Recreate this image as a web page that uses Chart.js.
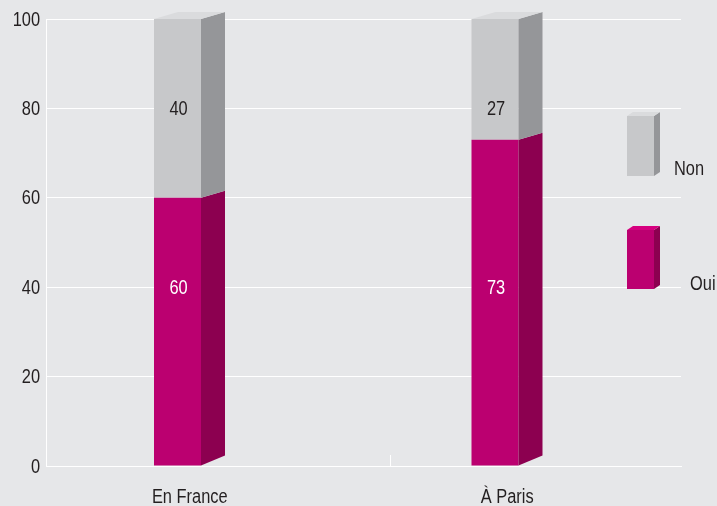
<!DOCTYPE html>
<html>
<head>
<meta charset="utf-8">
<script src="https://cdn.jsdelivr.net/npm/chart.js@4/dist/chart.umd.min.js"></script>
<style>
  html, body { margin: 0; padding: 0; background: #e6e7e9; }
  #wrap { width: 717px; height: 506px; }
</style>
</head>
<body>
<div id="wrap"><canvas id="chart" width="717" height="506"></canvas></div>
<script>
// --- data ---
const categories = ['En France', 'À Paris'];
const ouiValues = [60, 73];
const nonValues = [40, 27];
const yTicks = [0, 20, 40, 60, 80, 100];
const seriesNames = ['Oui', 'Non'];

// --- look ---
const FONT = "'Liberation Sans', Arial, sans-serif";
const NARROW = 0.82; // squeeze Liberation Sans down to a narrow face
const TEXT = '#231f20';
const frontColors = ['#bb0070', '#c7c8ca'];
const sideColors = ['#8c0050', '#959699'];
const topColors = ['#d6007f', '#dadbdd'];
const labelColors = ['#ffffff', TEXT];
const labelAt = [40, 80]; // where the value labels sit on the y scale
const depthX = 24, depthY = 7;

function narrowText(ctx, text, x, y, align, color) {
  ctx.save();
  ctx.translate(x, y);
  ctx.scale(NARROW, 1);
  ctx.font = '20px ' + FONT;
  ctx.fillStyle = color || TEXT;
  ctx.textAlign = align;
  ctx.textBaseline = 'middle';
  ctx.fillText(text, 0, 0);
  ctx.restore();
}

// axis labels in the narrow face, placed from the scales
const axisText = {
  id: 'axisText',
  afterDraw(chart) {
    const ctx = chart.ctx;
    const x = chart.scales.x, y = chart.scales.y;
    y.ticks.forEach((t, i) => {
      narrowText(ctx, String(t.value), y.right - 6, y.getPixelForTick(i) + 1, 'right');
    });
    x.ticks.forEach((t, i) => {
      narrowText(ctx, categories[t.value], x.getPixelForTick(i) - 15, x.top + 31, 'center');
    });
    // the lone little tick on the category axis
    ctx.save();
    ctx.strokeStyle = '#ffffff';
    ctx.lineWidth = 1;
    ctx.beginPath();
    ctx.moveTo(390.5, x.top - 11);
    ctx.lineTo(390.5, x.top);
    ctx.stroke();
    ctx.restore();
  }
};

// side + top faces so the bars look like the 3D columns
const bars3d = {
  id: 'bars3d',
  afterDatasetsDraw(chart) {
    const ctx = chart.ctx;
    ctx.save();
    [0, 1].forEach(i => {
      const meta = chart.getDatasetMeta(i);
      meta.data.forEach(bar => {
        const { x, y, base, width } = bar.getProps(['x', 'y', 'base', 'width'], true);
        const l = x - width / 2, r = x + width / 2;
        ctx.fillStyle = sideColors[i];
        ctx.beginPath();
        ctx.moveTo(r, y);
        ctx.lineTo(r + depthX, y - depthY);
        ctx.lineTo(r + depthX, base - (i === 0 ? 10 : depthY));
        ctx.lineTo(r, base);
        ctx.closePath();
        ctx.fill();
        if (i === 1) {
          ctx.fillStyle = topColors[i];
          ctx.beginPath();
          ctx.moveTo(l, y);
          ctx.lineTo(l + depthX, y - depthY);
          ctx.lineTo(r + depthX, y - depthY);
          ctx.lineTo(r, y);
          ctx.closePath();
          ctx.fill();
        }
      });
    });
    ctx.restore();

    // value labels
    const yScale = chart.scales.y;
    [0, 1].forEach(i => {
      const meta = chart.getDatasetMeta(i);
      const values = chart.data.datasets[i].data;
      meta.data.forEach((bar, j) => {
        narrowText(ctx, String(values[j]), bar.x + 1, yScale.getPixelForValue(labelAt[i]) + 1, 'center', labelColors[i]);
      });
    });
  }
};

// legend on the right: small 3D boxes, name below-right
const legend3d = {
  id: 'legend3d',
  afterDraw(chart) {
    const ctx = chart.ctx;
    const items = [
      { i: 1, box: [627, 116, 27, 60], text: [674, 169] },
      { i: 0, box: [627, 230, 27, 59], text: [690, 284] }
    ];
    items.forEach(it => {
      const [bx, by, bw, bh] = it.box;
      const dx = 6, dy = 4;
      ctx.save();
      ctx.fillStyle = frontColors[it.i];
      ctx.fillRect(bx, by, bw, bh);
      ctx.fillStyle = sideColors[it.i];
      ctx.beginPath();
      ctx.moveTo(bx + bw, by);
      ctx.lineTo(bx + bw + dx, by - dy);
      ctx.lineTo(bx + bw + dx, by + bh - dy);
      ctx.lineTo(bx + bw, by + bh);
      ctx.closePath();
      ctx.fill();
      ctx.fillStyle = topColors[it.i];
      ctx.beginPath();
      ctx.moveTo(bx, by);
      ctx.lineTo(bx + dx, by - dy);
      ctx.lineTo(bx + bw + dx, by - dy);
      ctx.lineTo(bx + bw, by);
      ctx.closePath();
      ctx.fill();
      ctx.restore();
      narrowText(ctx, seriesNames[it.i], it.text[0], it.text[1], 'left');
    });
  }
};

const bg = {
  id: 'bg',
  beforeDraw(chart) {
    const ctx = chart.ctx;
    ctx.save();
    ctx.fillStyle = '#e6e7e9';
    ctx.fillRect(0, 0, chart.width, chart.height);
    ctx.restore();
  }
};

new Chart(document.getElementById('chart'), {
  type: 'bar',
  data: {
    labels: categories,
    datasets: [
      { label: seriesNames[0], data: ouiValues, backgroundColor: frontColors[0], stack: 'a' },
      { label: seriesNames[1], data: nonValues, backgroundColor: frontColors[1], stack: 'a' },
      // empty neighbour stack, only there to push the columns left in each category
      { label: '', data: [null, null], backgroundColor: 'rgba(0,0,0,0)', stack: 'b' }
    ]
  },
  options: {
    responsive: false,
    animation: false,
    devicePixelRatio: 1,
    layout: { padding: { left: 0, right: 36, top: 19, bottom: 0 } },
    categoryPercentage: 0.3433,
    barPercentage: 0.8624,
    plugins: {
      legend: { display: false },
      tooltip: { enabled: false }
    },
    scales: {
      x: {
        stacked: true,
        grid: { display: false, drawTicks: false },
        border: { display: true, color: '#ffffff', width: 1 },
        ticks: { display: false },
        afterFit(scale) { scale.height = 40; }
      },
      y: {
        stacked: true,
        min: yTicks[0],
        max: yTicks[yTicks.length - 1],
        ticks: { stepSize: yTicks[1] - yTicks[0], display: false },
        grid: { color: '#ffffff', lineWidth: 1, drawTicks: false },
        border: { display: true, color: '#ffffff', width: 1 },
        afterFit(scale) { scale.width = 46; }
      }
    }
  },
  plugins: [bg, bars3d, axisText, legend3d]
});
</script>
</body>
</html>
